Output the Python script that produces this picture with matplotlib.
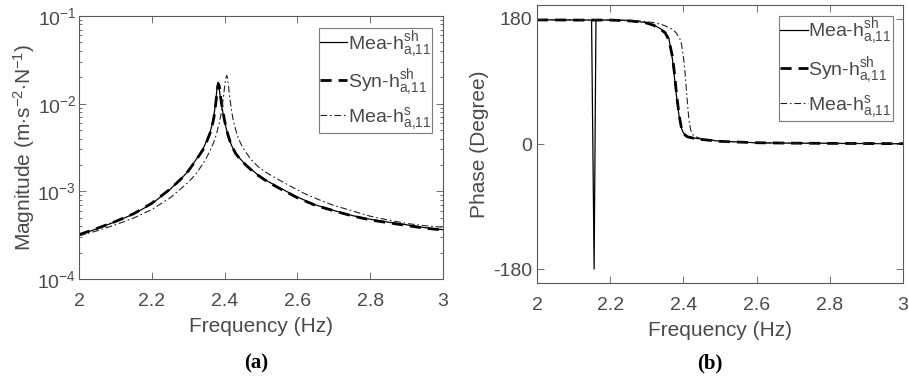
import matplotlib
matplotlib.use("Agg")
import matplotlib.pyplot as plt
from matplotlib.ticker import LogLocator, NullFormatter

# ---------------- data ----------------
f_mea_sh = [2.00, 2.05, 2.10, 2.15, 2.20, 2.25, 2.28, 2.30, 2.32, 2.34, 2.35, 2.36, 2.365, 2.37,
            2.373, 2.376, 2.379, 2.381, 2.382, 2.384, 2.387, 2.390, 2.394, 2.40, 2.405, 2.41,
            2.415, 2.42, 2.43, 2.44, 2.45, 2.47, 2.49, 2.52, 2.56, 2.60, 2.65, 2.70, 2.75,
            2.80, 2.85, 2.90, 2.95, 3.00]
mag_mea_sh = [3.18e-4, 3.75e-4, 4.5e-4, 5.5e-4, 7.2e-4, 1.05e-3, 1.38e-3, 1.7e-3, 2.25e-3, 3.0e-3,
              3.7e-3, 4.7e-3, 5.6e-3, 7.0e-3, 8.6e-3, 1.1e-2, 1.45e-2, 1.68e-2, 1.75e-2, 1.65e-2,
              1.3e-2, 1.05e-2, 8.5e-3, 6.3e-3, 5.1e-3, 4.25e-3, 3.7e-3, 3.28e-3, 2.75e-3, 2.42e-3,
              2.18e-3, 1.83e-3, 1.56e-3, 1.29e-3, 1.05e-3, 8.6e-4, 7.0e-4, 6.05e-4, 5.3e-4,
              4.8e-4, 4.45e-4, 4.15e-4, 3.85e-4, 3.65e-4]

f_syn_sh = [2.00, 2.05, 2.10, 2.15, 2.20, 2.25, 2.28, 2.30, 2.32, 2.34, 2.35, 2.36, 2.365, 2.37,
            2.373, 2.376, 2.379, 2.381, 2.383, 2.385, 2.388, 2.391, 2.395, 2.40, 2.405, 2.41,
            2.415, 2.42, 2.43, 2.44, 2.45, 2.47, 2.49, 2.52, 2.56, 2.60, 2.65, 2.70, 2.75,
            2.80, 2.85, 2.90, 2.95, 3.00]
mag_syn_sh = [3.2e-4, 3.78e-4, 4.52e-4, 5.55e-4, 7.3e-4, 1.06e-3, 1.38e-3, 1.7e-3, 2.22e-3, 2.95e-3,
              3.6e-3, 4.6e-3, 5.4e-3, 6.7e-3, 8.1e-3, 1.02e-2, 1.32e-2, 1.55e-2, 1.68e-2, 1.62e-2,
              1.3e-2, 1.05e-2, 8.4e-3, 6.4e-3, 5.15e-3, 4.3e-3, 3.72e-3, 3.28e-3, 2.72e-3, 2.4e-3,
              2.15e-3, 1.8e-3, 1.54e-3, 1.27e-3, 1.03e-3, 8.45e-4, 6.9e-4, 6.0e-4, 5.25e-4,
              4.72e-4, 4.38e-4, 4.08e-4, 3.8e-4, 3.62e-4]

f_mea_s = [2.00, 2.05, 2.10, 2.15, 2.20, 2.25, 2.28, 2.30, 2.32, 2.34, 2.35, 2.36, 2.37, 2.375,
           2.38, 2.385, 2.39, 2.393, 2.396, 2.399, 2.402, 2.404, 2.406, 2.408, 2.411, 2.414,
           2.418, 2.423, 2.43, 2.438, 2.45, 2.47, 2.49, 2.51, 2.54, 2.58, 2.62, 2.66, 2.70,
           2.75, 2.80, 2.85, 2.90, 2.95, 3.00]
mag_mea_s = [3.1e-4, 3.55e-4, 4.15e-4, 4.95e-4, 6.2e-4, 8.4e-4, 1.07e-3, 1.27e-3, 1.55e-3, 2.05e-3,
             2.4e-3, 2.9e-3, 3.6e-3, 4.15e-3, 4.9e-3, 5.9e-3, 7.5e-3, 9.0e-3, 1.12e-2, 1.43e-2,
             1.8e-2, 2.0e-2, 2.1e-2, 1.95e-2, 1.55e-2, 1.2e-2, 9.0e-3, 6.7e-3, 5.1e-3, 4.0e-3,
             3.15e-3, 2.38e-3, 1.95e-3, 1.68e-3, 1.42e-3, 1.15e-3, 9.4e-4, 8.0e-4, 6.9e-4,
             6.0e-4, 5.2e-4, 4.7e-4, 4.3e-4, 4.05e-4, 3.9e-4]

fp_mea_sh = [2.00, 2.05, 2.10, 2.145, 2.149, 2.156, 2.161, 2.20, 2.25, 2.28, 2.30, 2.32, 2.34,
             2.35, 2.36, 2.37, 2.375, 2.38, 2.385, 2.39, 2.395, 2.40, 2.41, 2.43, 2.45, 2.50,
             2.60, 2.70, 2.80, 2.90, 3.00]
ph_mea_sh = [179, 178.5, 178.5, 178.3, 178, -180, 178, 178.5, 177.5, 176, 174.5, 171, 165,
             161, 153, 122, 98, 74, 52, 34, 22, 16, 11, 8.5, 7, 4, 1.8, 1.2, 0.9, 0.7, 0.5]

fp_syn_sh = [2.00, 2.05, 2.10, 2.20, 2.25, 2.28, 2.30, 2.32, 2.34, 2.35, 2.36, 2.37, 2.375,
             2.38, 2.385, 2.39, 2.395, 2.40, 2.41, 2.43, 2.45, 2.50, 2.60, 2.70, 2.80, 2.90, 3.00]
ph_syn_sh = [178.5, 178.5, 178.3, 178.3, 177.3, 175.8, 174, 170.5, 164, 160, 150, 126, 104,
             78, 55, 36, 22, 15, 10.5, 8, 6.5, 3.8, 1.8, 1.2, 0.9, 0.7, 0.5]

fp_mea_s = [2.00, 2.05, 2.10, 2.20, 2.25, 2.28, 2.30, 2.32, 2.34, 2.35, 2.37, 2.38, 2.39,
            2.395, 2.40, 2.405, 2.41, 2.415, 2.42, 2.425, 2.43, 2.45, 2.50, 2.60, 2.70, 2.80,
            2.90, 3.00]
ph_mea_s = [179, 178.8, 178.6, 178.5, 178, 177, 176, 174.5, 172, 170, 165, 160, 152, 143,
            125, 100, 65, 35, 20, 14, 11, 7.5, 4, 1.8, 1.2, 0.9, 0.7, 0.5]

labels = [r'Mea-h$^{\mathregular{sh}}_{\mathregular{a{,}11}}$',
          r'Syn-h$^{\mathregular{sh}}_{\mathregular{a{,}11}}$',
          r'Mea-h$^{\mathregular{s}}_{\mathregular{a{,}11}}$']

xticks = [2, 2.2, 2.4, 2.6, 2.8, 3]
xticklabels = ['2', '2.2', '2.4', '2.6', '2.8', '3']
mag_yticks = [1e-4, 1e-3, 1e-2, 1e-1]
mag_yticklabels = [r'10$^{\mathregular{-4}}$', r'10$^{\mathregular{-3}}$',
                   r'10$^{\mathregular{-2}}$', r'10$^{\mathregular{-1}}$']
ph_yticks = [-180, 0, 180]
ph_yticklabels = ['-180', '0', '180']

# ---------------- style ----------------
plt.rcParams['font.family'] = ['Liberation Sans', 'DejaVu Sans']
plt.rcParams['mathtext.fontset'] = 'custom'
plt.rcParams['mathtext.rm'] = 'Liberation Sans'
plt.rcParams['mathtext.it'] = 'Liberation Sans'
plt.rcParams['axes.unicode_minus'] = False

TXT = '#4a4a4a'
SP = '#5a5a5a'

fig = plt.figure(figsize=(9.09, 3.79), dpi=100)
ax1 = fig.add_axes([0.0869, 0.2639, 0.4004, 0.6939])
ax2 = fig.add_axes([0.5908, 0.2533, 0.4026, 0.7335])


def style(ax, ypad):
    for s in ax.spines.values():
        s.set_color(SP)
        s.set_linewidth(0.8)
    ax.tick_params(which='both', direction='in', top=True, right=True,
                   colors=SP, labelcolor=TXT, labelsize=14, width=0.6)
    ax.tick_params(which='major', length=5)
    ax.tick_params(which='minor', length=2.5)
    ax.tick_params(axis='x', which='major', pad=10)
    ax.tick_params(axis='y', which='major', pad=ypad)


def make_legend(ax, anchor):
    leg = ax.legend(loc='upper right', bbox_to_anchor=anchor, borderaxespad=0,
                    fontsize=14, frameon=True, fancybox=False, edgecolor=SP,
                    handlelength=1.4, handletextpad=0.05, labelspacing=0.38,
                    borderpad=0.05)
    leg.get_frame().set_linewidth(0.8)
    for t in leg.get_texts():
        t.set_color(TXT)
    return leg


# (a) magnitude
ax1.plot(f_mea_sh, mag_mea_sh, color='black', lw=0.9, ls='-', label=labels[0])
ax1.plot(f_syn_sh, mag_syn_sh, color='black', lw=2.0, ls=(0, (4, 2.5)), label=labels[1])
ax1.plot(f_mea_s, mag_mea_s, color='#222222', lw=0.8, ls=(0, (6, 2.5, 1.5, 2.5)), label=labels[2])
ax1.set_yscale('log')
ax1.set_xlim(2, 3)
ax1.set_ylim(1e-4, 1e-1)
ax1.set_xticks(xticks, labels=xticklabels)
ax1.set_yticks(mag_yticks, labels=mag_yticklabels)
ax1.yaxis.set_minor_locator(LogLocator(base=10, subs=range(2, 10)))
ax1.yaxis.set_minor_formatter(NullFormatter())
style(ax1, 2)
ax1.set_xlabel('Frequency (Hz)', fontsize=15, color=TXT, labelpad=5)
ax1.set_ylabel(r'Magnitude (m$\cdot$s$^{\mathregular{-2}}$$\cdot$N$^{\mathregular{-1}}$)',
               fontsize=15, color=TXT, labelpad=0)
make_legend(ax1, (0.970, 0.955))

# (b) phase
ax2.plot(fp_mea_sh, ph_mea_sh, color='black', lw=0.9, ls='-', label=labels[0])
ax2.plot(fp_syn_sh, ph_syn_sh, color='black', lw=2.0, ls=(0, (4, 2.5)), label=labels[1])
ax2.plot(fp_mea_s, ph_mea_s, color='#222222', lw=0.8, ls=(0, (6, 2.5, 1.5, 2.5)), label=labels[2])
ax2.set_xlim(2, 3)
ax2.set_ylim(-200, 200)
ax2.set_xticks(xticks, labels=xticklabels)
ax2.set_yticks(ph_yticks, labels=ph_yticklabels)
style(ax2, 3.5)
ax2.set_xlabel('Frequency (Hz)', fontsize=15, color=TXT, labelpad=5)
ax2.set_ylabel('Phase (Degree)', fontsize=15, color=TXT, labelpad=3)
make_legend(ax2, (0.972, 0.962))

fig.text(256 / 909, 1 - 363 / 379, '(a)', ha='center', va='center',
         fontfamily='Liberation Serif', fontweight='bold', fontsize=15)
fig.text(710 / 909, 1 - 363 / 379, '(b)', ha='center', va='center',
         fontfamily='Liberation Serif', fontweight='bold', fontsize=15)

fig.savefig('out.png', dpi=100)
